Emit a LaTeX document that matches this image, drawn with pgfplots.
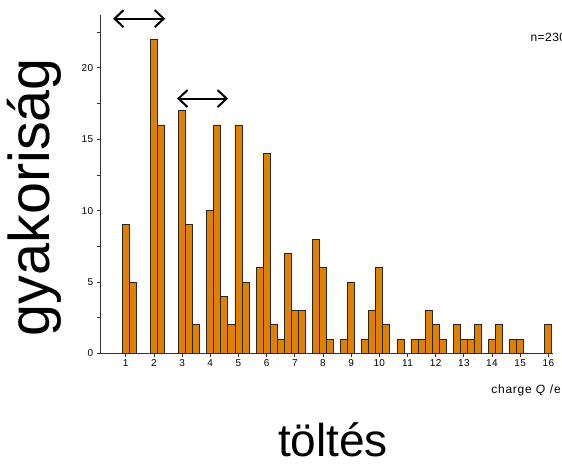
\documentclass[border=0pt]{standalone}
\usepackage{pgfplots}
\pgfplotsset{compat=1.18}
\usepackage{fontspec}
\setmainfont{Liberation Sans}
\usetikzlibrary{arrows.meta}
\definecolor{barorange}{RGB}{224,128,0}
\definecolor{axisgray}{RGB}{50,50,50}

\begin{document}
\begin{tikzpicture}
\useasboundingbox (0pt,0pt) rectangle (562pt,463pt);
\clip (0pt,0pt) rectangle (562pt,463pt);
\begin{axis}[
  at={(100.7pt,109.7pt)}, anchor=south west,
  scale only axis, width=452.4pt, height=338.2pt,
  xmin=0.11, xmax=16.17, ymin=0, ymax=23.7,
  clip=false,
  axis x line=bottom, axis y line=left,
  axis line style={-, line width=1pt, axisgray},
  xtick={1,...,16},
  ytick={0,5,10,15,20},
  minor ytick={2.5,7.5,12.5,17.5,22.5},
  tick align=outside,
  major tick length=4pt, minor tick length=4pt,
  every tick/.style={axisgray, line width=0.8pt},
  /pgf/number format/assume math mode=true,
  ticklabel style={font=\addfontfeature{LetterSpace=4}\fontsize{10}{12}\selectfont},
  xticklabel style={yshift=1pt},
  ylabel={gyakoriság},
  ylabel style={at={(axis description cs:-0.147,0.462)}, anchor=center, rotate=0,
    font=\fontsize{57.5}{66}\selectfont},
  xlabel={töltés},
  xlabel style={at={(axis description cs:0.5135,-0.304)}, anchor=base,
    inner sep=0pt, text depth=0pt,
    font=\fontsize{46}{55}\selectfont},
]
\addplot[ybar, bar width=0.25, bar shift=0pt, fill=barorange, draw=black!85, line width=0.8pt]
coordinates {
(1.0,9)(1.25,5)(2.0,22)(2.25,16)(3.0,17)(3.25,9)(3.5,2)
(4.0,10)(4.25,16)(4.5,4)(4.75,2)(5.0,16)(5.25,5)
(5.75,6)(6.0,14)(6.25,2)(6.5,1)(6.75,7)(7.0,3)(7.25,3)
(7.75,8)(8.0,6)(8.25,1)(8.75,1)(9.0,5)
(9.5,1)(9.75,3)(10.0,6)(10.25,2)(10.75,1)
(11.25,1)(11.5,1)(11.75,3)(12.0,2)(12.25,1)
(12.75,2)(13.0,1)(13.25,1)(13.5,2)
(14.0,1)(14.25,2)(14.75,1)(15.0,1)(16.0,2)
};
\draw[{Straight Barb[length=9pt,width=17pt]}-{Straight Barb[length=9pt,width=17pt]}, line width=2pt]
  (axis cs:0.55,23.45) -- (axis cs:2.40,23.45);
\draw[{Straight Barb[length=9pt,width=17pt]}-{Straight Barb[length=9pt,width=17pt]}, line width=2pt]
  (axis cs:2.82,17.85) -- (axis cs:4.63,17.85);
\node[anchor=west, font=\addfontfeature{LetterSpace=6}\fontsize{12}{14}\selectfont]
  at (axis description cs:0.856,-0.111) {charge \textit{Q} /e};
\node[anchor=west, font=\addfontfeature{LetterSpace=4}\fontsize{12}{14}\selectfont]
  at (axis description cs:0.9423,0.935) {n=230};
\end{axis}
\end{tikzpicture}
\end{document}
